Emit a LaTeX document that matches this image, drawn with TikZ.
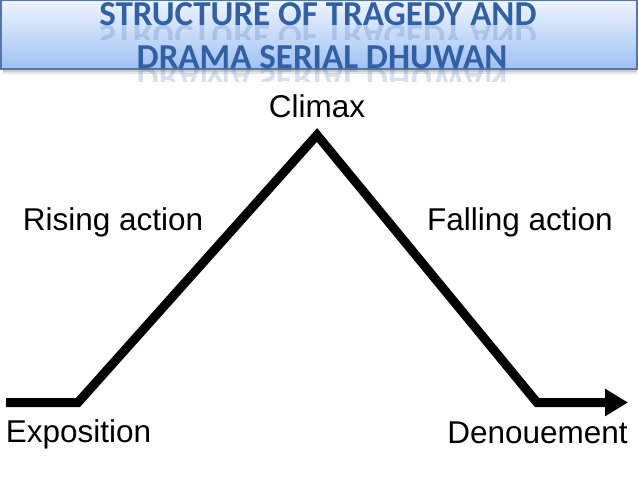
\documentclass[tikz,border=0pt]{standalone}
\usepackage{fontspec}
\setmainfont{Liberation Sans}
\newfontfamily\titlefont{Carlito}
\usetikzlibrary{arrows.meta,positioning,calc}
\definecolor{titleblue}{RGB}{50,96,165}
\definecolor{barborder}{RGB}{84,118,168}
\definecolor{bartop}{RGB}{238,244,255}
\definecolor{barbottom}{RGB}{158,193,242}
\tikzset{
  bar/.style={draw=barborder, line width=1.3pt, top color=bartop, bottom color=barbottom},
  titletext/.style={font=\titlefont\bfseries\fontsize{35}{40}\selectfont, text=titleblue, inner sep=0pt, anchor=base},
  mirror/.style={titletext, yscale=-1, opacity=0.2},
  plotline/.style={line width=9pt, line join=miter, -{Triangle[length=23pt, width=26pt]}},
  stage/.style={font=\fontsize{31.5}{36}\selectfont, inner sep=0pt, anchor=base}
}

\begin{document}
\begin{tikzpicture}[x=1pt, y=-1pt]
  \useasboundingbox (0,0) rectangle (638,479);

  % title bar
  \fill[black!20] (3,69) rectangle (637,72);
  \fill[black!10] (3,72) rectangle (637,74);
  \path[bar] (1,0.5) rectangle (637,69);
  \node[titletext] (title1) at (318,25.5) {STRUCTURE OF TRAGEDY AND};
  \begin{scope}
    \clip (0,25.5) rectangle (638,39);
    \node[mirror] (mirror1) at (318,25.5) {STRUCTURE OF TRAGEDY AND};
  \end{scope}
  \node[titletext] (title2) at (322,68) {DRAMA SERIAL DHUWAN};
  \begin{scope}
    \clip (0,68) rectangle (638,81);
    \node[mirror] (mirror2) at (322,68) {DRAMA SERIAL DHUWAN};
  \end{scope}

  % plot line
  \coordinate (start) at (6,402.5);
  \coordinate (expo) at (78,402.5);
  \coordinate (climax) at (317,135);
  \coordinate (deno) at (537,402.5);
  \coordinate (finish) at (628,402.5);
  \draw[plotline] (start) -- (expo) -- (climax) -- (deno) -- (finish);

  % stage labels
  \node[stage] (climaxlbl) at (317,117) {Climax};
  \node[stage] (rising) at (113,230) {Rising action};
  \node[stage] (falling) at (520,230) {Falling action};
  \node[stage] (expolbl) at (78.5,442) {Exposition};
  \node[stage] (denolbl) at (537.5,443) {Denouement};
\end{tikzpicture}
\end{document}
